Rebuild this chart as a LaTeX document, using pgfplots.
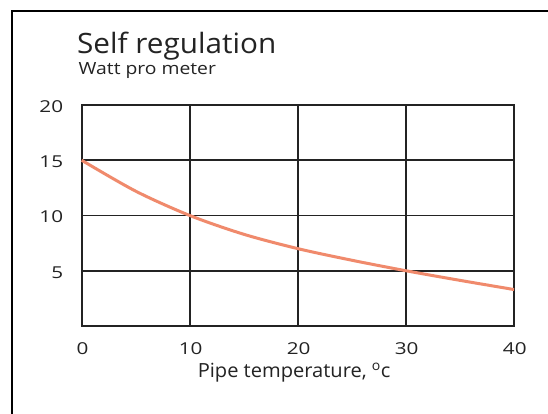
\documentclass[border=0pt]{standalone}
\usepackage{fontspec}
\setmainfont{Open Sans}
\newfontfamily\titlefont[FakeStretch=1.06]{Open Sans}
\newfontfamily\subfont[FakeStretch=1.15]{Open Sans}
\newfontfamily\tickfont[FakeStretch=1.26]{Open Sans}
\newfontfamily\labelfont[FakeStretch=1.03]{Open Sans}
\usepackage{pgfplots}
\pgfplotsset{compat=1.18}
\definecolor{curve}{RGB}{240,138,108}
\definecolor{ink}{RGB}{35,35,35}
\begin{document}
\begin{tikzpicture}[x=1pt,y=1pt]
\useasboundingbox (0,0) rectangle (548,414);
\fill[white] (0,0) rectangle (548,414);
\draw[line width=2.4pt, black] (12,-2) -- (12,403) -- (550,403);
\node[anchor=base west, inner sep=0pt, text=ink, font=\titlefont\fontsize{28}{30}\selectfont] at (77,360.7) {Self regulation};
\node[anchor=base west, inner sep=0pt, text=ink, font=\subfont\fontsize{16.8}{19}\selectfont] at (78.5,339) {Watt pro meter};
\begin{axis}[
  at={(81.7pt,88pt)}, anchor=south west,
  scale only axis, width=432.3pt, height=221pt,
  xmin=0, xmax=40, ymin=0, ymax=20,
  xtick={0,10,20,30,40}, ytick={5,10,15,20},
  yticklabels={5,10,15,\raisebox{-4pt}{20}},
  grid=major,
  grid style={line width=1.6pt, color=ink},
  axis line style={line width=1.6pt, color=ink},
  major tick length=0pt,
  /pgf/number format/assume math mode=true,
  ticklabel style={font=\tickfont\fontsize{16.4}{18}\selectfont, text=ink},
  xticklabel style={anchor=base, inner sep=0pt, yshift=-29pt, xshift=0.8pt},
  yticklabel style={anchor=east, inner sep=0pt, xshift=-18.4pt, yshift=-1.5pt},
  xlabel={Pipe temperature, \textsuperscript{o}c},
  xlabel style={at={(axis description cs:0.5,0)}, anchor=base, inner sep=0pt, yshift=-51.7pt, xshift=-3.7pt, font=\labelfont\fontsize{19.5}{22}\selectfont, text=ink},
  clip=false,
]
\addplot[smooth, line width=3pt, color=curve] coordinates {
(0,15) (5,12.2) (10,10) (15,8.3) (20,7.0) (25,5.95) (30,5.0) (35,4.13) (40,3.3)
};
\end{axis}
\end{tikzpicture}
\end{document}
